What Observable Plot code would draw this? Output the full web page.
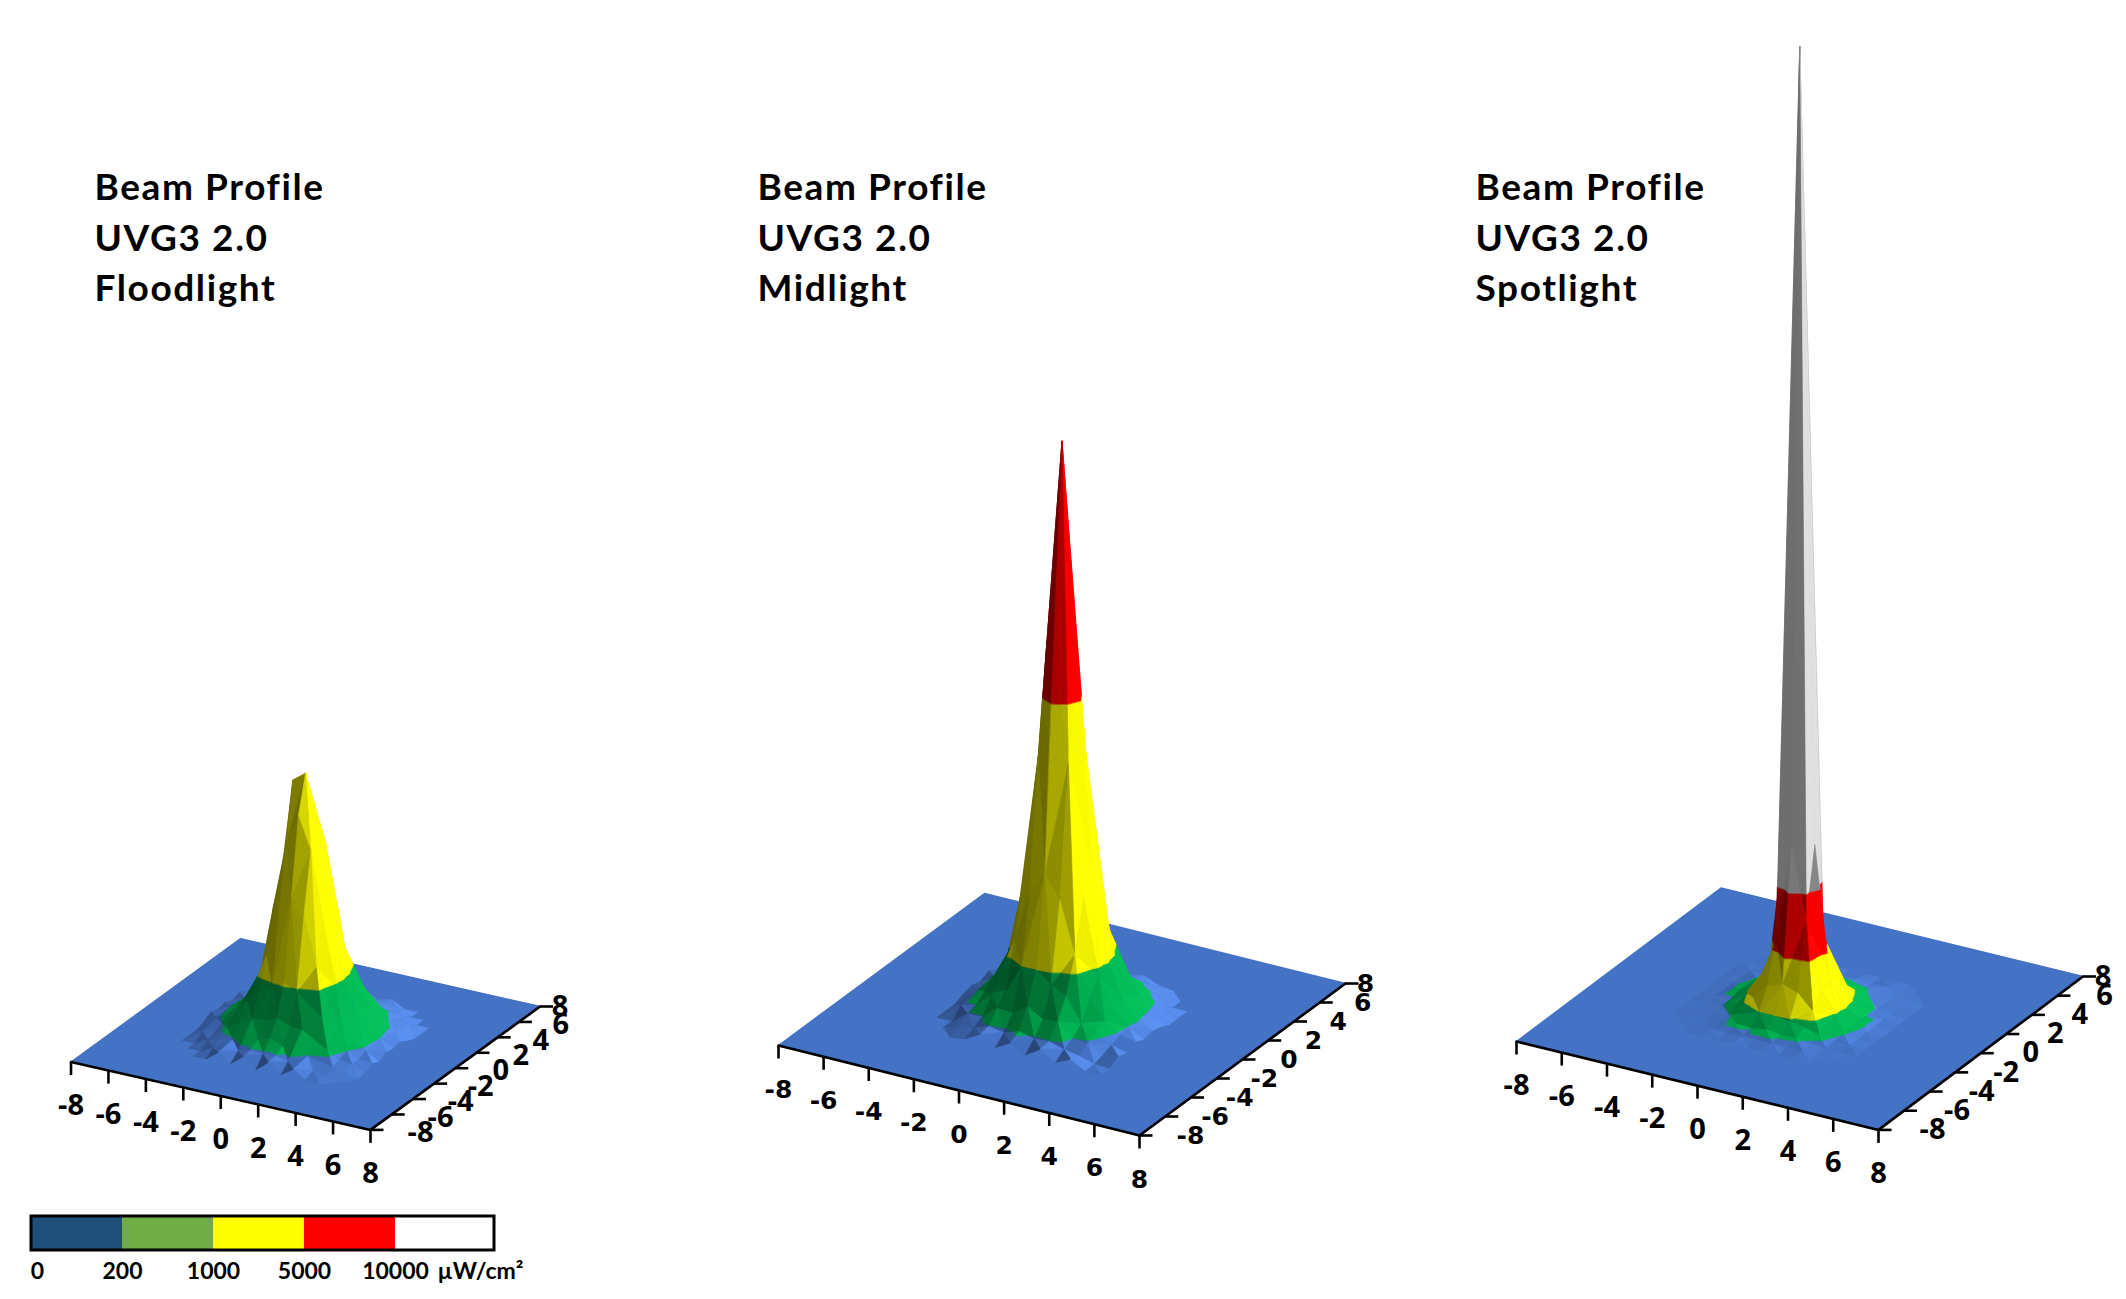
<!DOCTYPE html>
<html>
<head>
<meta charset="utf-8">
<script src="https://cdn.jsdelivr.net/npm/d3@7"></script>
<script src="https://cdn.jsdelivr.net/npm/@observablehq/plot@0.6"></script>
<style>
html,body{margin:0;padding:0;background:#fff;overflow:hidden}
svg{display:block}
.ptitle text{letter-spacing:1.6px}
</style>
</head>
<body>
<div id="chart"></div>
<script>
// Beam irradiance (µW/cm²), on a grid of spacing 2/3 centred on the beam.
const floodGrid = [
[0,0,0,0,150,20,170,10,170,20,150,30,0,0,0],
[0,0,0,90,170,130,190,170,190,140,170,90,50,0,0],
[0,0,100,150,180,300,270,330,260,310,190,150,110,60,0],
[0,100,130,240,370,470,500,570,490,480,360,250,140,110,40],
[0,130,190,370,620,820,930,1050,940,790,640,360,200,120,100],
[50,150,280,460,800,1300,2000,2300,2050,1300,780,470,270,160,50],
[120,170,300,520,950,2000,3000,3500,3000,1950,960,510,310,170,110],
[80,180,320,560,1050,2300,3950,4100,3300,2300,1030,550,320,190,90],
[110,170,300,520,950,1950,3000,3500,3000,2000,950,520,300,170,120],
[50,150,280,460,790,1300,2000,2300,2000,1300,800,460,280,150,50],
[100,130,190,370,620,800,950,1050,950,800,620,380,190,130,0],
[30,100,130,230,380,460,520,560,520,460,380,230,140,100,0],
[0,60,100,140,190,280,300,320,300,280,190,140,100,0,0],
[0,0,60,100,130,150,170,180,170,150,130,100,0,0,0],
[0,0,0,30,110,50,120,80,120,50,110,0,0,0,0]
];
const midGrid = [
[0,0,0,40,170,20,150,20,170,20,130,0,0],
[0,0,70,110,190,150,230,170,190,120,80,10,0],
[0,0,170,190,380,360,520,380,400,200,170,50,100],
[0,150,200,450,560,980,1000,820,700,330,260,110,50],
[0,170,330,640,1250,2050,2400,2050,1250,640,330,170,130],
[60,190,430,900,2050,4100,5800,4100,2050,900,430,190,60],
[100,210,480,1050,2400,5800,9000,5800,2400,1050,480,210,100],
[60,190,430,900,2050,4100,5800,4100,2050,900,430,190,60],
[130,170,330,640,1250,2050,2400,2050,1250,640,330,170,0],
[40,130,230,380,640,900,1050,900,640,380,230,130,0],
[90,60,140,230,330,430,480,430,330,230,140,0,0],
[0,0,60,130,170,190,210,190,170,130,60,0,0],
[0,0,90,40,130,60,100,60,130,40,0,0,0]
];
const spotGrid = [
[0,0,0,20,0,40,0,30,0,30,0,0,0],
[0,0,20,60,30,80,60,90,40,80,20,0,0],
[0,20,50,130,280,210,400,260,240,130,50,20,0],
[20,60,90,180,560,980,1000,820,640,300,120,70,30],
[0,40,120,600,1400,2600,3000,2600,1400,600,220,40,0],
[30,90,150,900,2600,5600,13500,7900,2600,900,300,90,30],
[0,60,350,1050,3000,13500,77300,13500,3000,1050,350,60,0],
[30,90,300,900,2600,7900,13500,5600,2600,900,150,90,30],
[0,40,220,600,1400,2600,3000,2600,1400,600,120,40,0],
[20,70,120,320,600,900,1050,900,600,180,90,70,20],
[0,20,50,120,220,300,350,300,220,120,50,20,0],
[0,0,20,70,40,90,60,90,40,70,20,0,0],
[0,0,0,20,0,30,0,30,0,20,0,0,0]
];

const gridSpacing = 2 / 3;
const axisRange = [-8, 8];
const axisTicks = [-8, -6, -4, -2, 0, 2, 4, 6, 8];
const titleHead = ["Beam Profile", "UVG3 2.0"];
const modes = ["Floodlight", "Midlight", "Spotlight"];

const bandLimits = [0, 200, 1000, 5000, 10000, Infinity];
const bandColors = [[68,114,196],[0,176,80],[255,255,0],[255,0,0],[224,224,224]];
const legendColors = ["#1f4e79", "#70ad47", "#ffff00", "#ff0000", "#ffffff"];
const legendLabels = ["0", "200", "1000", "5000", "10000"];
const legendUnit = "µW/cm²";

// page geometry of each drawing: plate corners, vertical scale, label placement
const panels = [
  {grid: floodGrid, L:[70.5,1061.6],F:[370,1129.4],R:[539.6,1006],pxPerUnitZ:0.0637, titleX:94,   font:"Open Sans",size:29, rdx:[50,42], rdy:3},
  {grid: midGrid,   L:[778,1045],   F:[1139,1135], R:[1345,983],  pxPerUnitZ:0.0637, titleX:757,  font:"DejaVu Sans",size:25, rdx:[51,43], rdy:0},
  {grid: spotGrid,  L:[1516,1041],  F:[1878,1129.4],R:[2082.5,976],pxPerUnitZ:0.01245,titleX:1475, font:"Open Sans",size:29, rdx:[54,47], rdy:0}
];

function projector(p) {
  const ux = (p.F[0]-p.L[0])/16, uy = (p.F[1]-p.L[1])/16;
  const vx = (p.R[0]-p.F[0])/16, vy = (p.R[1]-p.F[1])/16;
  const cx = (p.L[0]+p.R[0])/2, cy = (p.L[1]+p.R[1])/2;
  return {ux,uy,vx,vy, at:(u,v,z=0)=>[cx+u*ux+v*vx, cy+u*uy+v*vy-z*p.pxPerUnitZ]};
}

function clipBand(poly, lo, hi) {
  const clip = (pts, keep, level) => {
    const out = [];
    pts.forEach((a,i) => {
      const b = pts[(i+1)%pts.length];
      const ka = keep(a[2]), kb = keep(b[2]);
      if (ka) out.push(a);
      if (ka !== kb) {
        const t = (level-a[2])/(b[2]-a[2]);
        out.push([a[0]+t*(b[0]-a[0]), a[1]+t*(b[1]-a[1]), level]);
      }
    });
    return out;
  };
  let r = clip(poly, z => z >= lo, lo);
  if (r.length && hi < Infinity) r = clip(r, z => z <= hi, hi);
  return r;
}

function shadeColor(bi, k) {
  if (bi === 4) { // brightest band: light grey lit side, mid grey elsewhere
    const g = k >= 1 ? 224 : Math.round(105 + 50*(k-0.38));
    return `rgb(${g},${g},${g})`;
  }
  if (bi === 1 && k > 1) k = 1 + (k-1)*0.5;
  const add = k > 1 ? (k-1)*60 : 0;
  const c = bandColors[bi].map(v => Math.max(0, Math.min(255, Math.round(v*k+add))));
  return `rgb(${c[0]},${c[1]},${c[2]})`;
}

const facets = [];
panels.forEach((p, pi) => {
  const pr = projector(p);
  const n = p.grid.length, half = (n-1)/2;
  const gu = Math.hypot(pr.ux, pr.vx);
  const rightU = pr.ux/gu, rightV = pr.vx/gu;
  const tris = [];
  for (let j=0;j<n-1;j++) for (let i=0;i<n-1;i++) {
    const node = (a,b) => [(a-half)*gridSpacing, (b-half)*gridSpacing, p.grid[b][a]];
    const A=node(i,j),B=node(i+1,j),C=node(i+1,j+1),D=node(i,j+1);
    const pair = (i+j)%2===0 ? [[A,B,C],[A,C,D]] : [[A,B,D],[B,C,D]];
    tris.push(...pair);
  }
  const depth = t => d3.mean(t, q => pr.at(q[0],q[1])[1]);
  tris.sort((a,b)=>depth(a)-depth(b));
  tris.forEach((t,ti) => {
    if (t.every(q=>q[2]===0)) return;
    const S = 20, Z = p.pxPerUnitZ;
    const e1=[(t[1][0]-t[0][0])*S,(t[1][1]-t[0][1])*S,(t[1][2]-t[0][2])*Z];
    const e2=[(t[2][0]-t[0][0])*S,(t[2][1]-t[0][1])*S,(t[2][2]-t[0][2])*Z];
    let nn=[e1[1]*e2[2]-e1[2]*e2[1], e1[2]*e2[0]-e1[0]*e2[2], e1[0]*e2[1]-e1[1]*e2[0]];
    const len=Math.hypot(...nn); nn=nn.map(v=>v/len); if(nn[2]<0) nn=nn.map(v=>-v);
    const nR = nn[0]*rightU+nn[1]*rightV;
    const k = 1 + (nR>0?0.42:-0.32)*Math.pow(Math.abs(nR),0.7) - 0.3*(1-nn[2]*nn[2]);
    bandColors.forEach((base,bi) => {
      const piece = clipBand(t, bandLimits[bi], bandLimits[bi+1]);
      if (piece.length < 3) return;
      const fill = shadeColor(bi,k);
      const id = `${pi}-${ti}-${bi}`;
      piece.forEach(q => { const [x,y]=pr.at(q[0],q[1],q[2]); facets.push({id,x,y,fill}); });
    });
  });
});

const plates=[], axisPts=[], ticks=[], frontLabels=[], rightLabels=[], titles=[];
panels.forEach((p,pi) => {
  const pr = projector(p);
  [[axisRange[0],axisRange[0]],[axisRange[1],axisRange[0]],[axisRange[1],axisRange[1]],[axisRange[0],axisRange[1]]].forEach(([u,v]) => {
    const [x,y]=pr.at(u,v); plates.push({id:pi,x,y});
  });
  [[axisRange[0],axisRange[0]],[axisRange[1],axisRange[0]],[axisRange[1],axisRange[1]]].forEach(([u,v]) => {
    const [x,y]=pr.at(u,v); axisPts.push({id:pi,x,y});
  });
  axisTicks.forEach(t => {
    const [x1,y1]=pr.at(t,axisRange[0]);
    ticks.push({x1,y1,x2:x1,y2:y1+13});
    frontLabels.push({pi,x:x1,y:y1+44,text:String(t)});
    const [x3,y3]=pr.at(axisRange[1],t);
    ticks.push({x1:x3,y1:y3,x2:x3+13,y2:y3});
    const shift = p.rdx[0]+(p.rdx[1]-p.rdx[0])*(t+8)/14;
    if (t===axisRange[1]) rightLabels.push({pi,x:x3+20,y:y3,text:String(t)});
    else rightLabels.push({pi,x:x3+shift,y:y3+p.rdy,text:String(t)});
  });
  [...titleHead, modes[pi]].forEach((text,li) => titles.push({x:p.titleX,y:188+li*50.5,text}));
});

const legendLeft=31, legendCell=91, legendRight=494, legendTop=1216, legendBottom=1250;
const legendCells = legendColors.map((fill,i)=>({x1:legendLeft+i*legendCell,x2:i===4?legendRight:legendLeft+(i+1)*legendCell,fill}));
const legendTexts = legendLabels.map((text,i)=>({x:i===0?37:legendLeft+i*legendCell,text}));

const axisText = pi => [
  Plot.text(frontLabels.filter(d=>d.pi===pi),{x:"x",y:"y",text:"text",fontFamily:panels[pi].font,fontWeight:700,fontSize:panels[pi].size,fill:"#000"}),
  Plot.text(rightLabels.filter(d=>d.pi===pi),{x:"x",y:"y",text:"text",fontFamily:panels[pi].font,fontWeight:700,fontSize:panels[pi].size,fill:"#000"})
];

const chart = Plot.plot({
  width:2126, height:1299, margin:0,
  x:{domain:[0,2126],range:[0,2126],axis:null},
  y:{domain:[0,1299],range:[0,1299],axis:null},
  color:{type:"identity"},
  style:{background:"#fff"},
  marks:[
    Plot.line(plates,{x:"x",y:"y",z:"id",fill:"#4472c4",stroke:"#4472c4",curve:"linear-closed"}),
    Plot.line(axisPts,{x:"x",y:"y",z:"id",stroke:"#000",strokeWidth:2.6}),
    Plot.link(ticks,{x1:"x1",y1:"y1",x2:"x2",y2:"y2",stroke:"#000",strokeWidth:2.6}),
    Plot.line(facets,{x:"x",y:"y",z:"id",fill:"fill",stroke:"fill",strokeWidth:0.6,curve:"linear-closed"}),
    ...axisText(0),...axisText(1),...axisText(2),
    Plot.text(titles,{x:"x",y:"y",text:"text",textAnchor:"start",fontFamily:"Lato",fontWeight:700,fontSize:37,fill:"#000",className:"ptitle"}),
    Plot.rect(legendCells,{x1:"x1",x2:"x2",y1:()=>legendTop,y2:()=>legendBottom,fill:"fill"}),
    Plot.rect([{}],{x1:()=>legendLeft,x2:()=>legendRight,y1:()=>legendTop,y2:()=>legendBottom,fill:"none",stroke:"#000",strokeWidth:3}),
    Plot.text(legendTexts,{x:"x",y:()=>1271,text:"text",fontFamily:"Lato",fontWeight:700,fontSize:23,fill:"#000"}),
    Plot.text([legendUnit],{x:()=>480,y:()=>1271,text:d=>d,fontFamily:"Lato",fontWeight:700,fontSize:23,fill:"#000"})
  ]
});
document.getElementById("chart").appendChild(chart);
</script>
</body>
</html>
